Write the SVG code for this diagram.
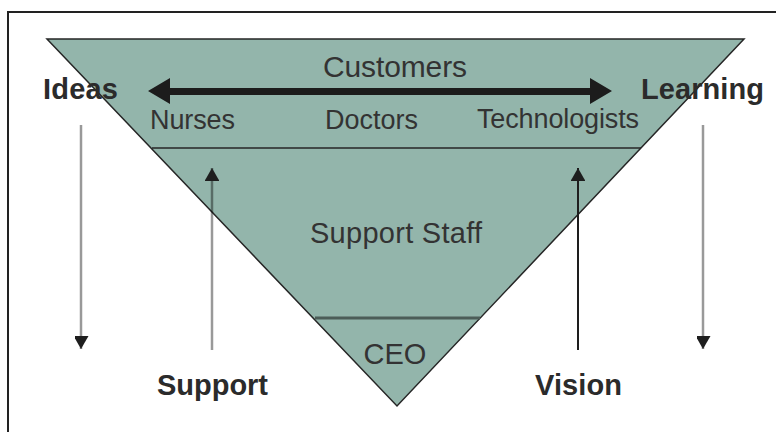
<svg xmlns="http://www.w3.org/2000/svg" width="776" height="432" viewBox="0 0 776 432">
<style>
.reg{font-family:"Liberation Sans",Arial,sans-serif;fill:#333}
.bold{font-family:"Liberation Sans",Arial,sans-serif;font-weight:bold;fill:#2b2b2b;font-size:29px}
.edge{fill:none;stroke:#262626;stroke-width:1.5}
.gray{stroke:#000;stroke-opacity:0.4;stroke-width:2.5}
</style>
<defs>
<marker id="ah" markerWidth="15" markerHeight="14" refX="13" refY="7.5" orient="auto" markerUnits="userSpaceOnUse">
<path d="M0,0 L13,7.5 L0,15 Z" fill="#1e1e1e"/>
</marker>
</defs>
<rect x="0" y="0" width="776" height="432" fill="#fff"/>
<path d="M8,440 L8,12 L790,12" fill="none" stroke="#222" stroke-width="2"/>
<g id="pyramid">
<polygon points="47,39 744,39 397,406" fill="#93b5ab" stroke="#262626" stroke-width="1.5" stroke-linejoin="miter"/>
</g>
<g id="customers">
<text class="reg" x="395" y="77" font-size="30" text-anchor="middle" textLength="144">Customers</text>
<text class="reg" x="150" y="129" font-size="27" textLength="85">Nurses</text>
<text class="reg" x="325" y="129" font-size="27" textLength="93">Doctors</text>
<text class="reg" x="477" y="128" font-size="27" textLength="162">Technologists</text>
</g>
<g id="support-staff">
<line class="edge" x1="152" y1="148" x2="641" y2="148"/>
<text class="reg" x="310" y="243" font-size="29" textLength="172">Support Staff</text>
</g>
<g id="ceo">
<line x1="315" y1="318" x2="480" y2="318" stroke="#4c5d58" stroke-width="3"/>
<text class="reg" x="395" y="364" font-size="29" text-anchor="middle">CEO</text>
</g>
<g id="labels">
<text class="bold" x="43" y="99" textLength="75">Ideas</text>
<text class="bold" x="641" y="99" textLength="123">Learning</text>
<text class="bold" x="157" y="395" textLength="111">Support</text>
<text class="bold" x="535" y="395" textLength="87">Vision</text>
</g>
<g id="connectors">
<polygon points="148,91 170,78 170,88 590,88 590,78 612,91 590,104 590,95 170,95 170,104" fill="#1c1c1c"/>
<line class="gray" x1="81" y1="125" x2="81" y2="349" marker-end="url(#ah)"/>
<line class="gray" x1="703" y1="125" x2="703" y2="349" marker-end="url(#ah)"/>
<line class="gray" x1="212" y1="350" x2="212" y2="168" marker-end="url(#ah)"/>
<line x1="578" y1="350" x2="578" y2="168" stroke="#1e1e1e" stroke-width="2" marker-end="url(#ah)"/>
</g>
</svg>
